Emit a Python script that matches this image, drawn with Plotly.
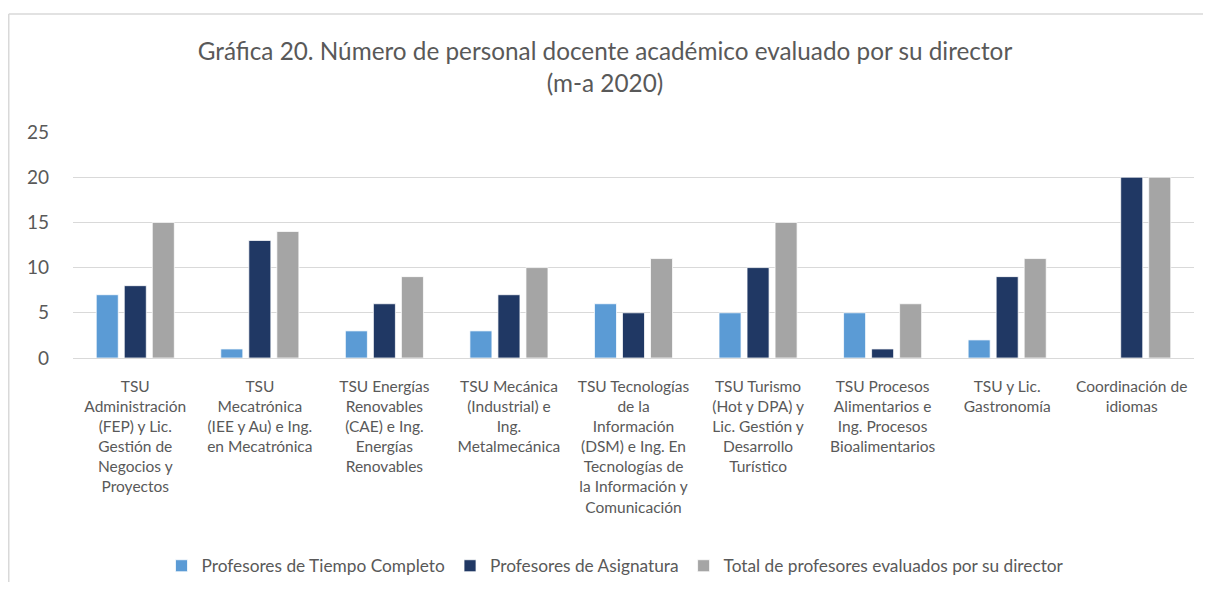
import plotly.graph_objects as go

categories = [
    "TSU<br>Administración<br>(FEP) y Lic.<br>Gestión de<br>Negocios y<br>Proyectos",
    "TSU<br>Mecatrónica<br>(IEE y Au) e Ing.<br>en Mecatrónica",
    "TSU Energías<br>Renovables<br>(CAE) e Ing.<br>Energías<br>Renovables",
    "TSU Mecánica<br>(Industrial) e<br>Ing.<br>Metalmecánica",
    "TSU Tecnologías<br>de la<br>Información<br>(DSM) e Ing. En<br>Tecnologías de<br>la Información y<br>Comunicación",
    "TSU Turismo<br>(Hot y DPA) y<br>Lic. Gestión y<br>Desarrollo<br>Turístico",
    "TSU Procesos<br>Alimentarios e<br>Ing. Procesos<br>Bioalimentarios",
    "TSU y Lic.<br>Gastronomía",
    "Coordinación de<br>idiomas",
]
tiempo_completo = [7, 1, 3, 3, 6, 5, 5, 2, None]
asignatura = [8, 13, 6, 7, 5, 10, 1, 9, 20]
total = [15, 14, 9, 10, 11, 15, 6, 11, 20]

series_names = [
    "Profesores de Tiempo Completo",
    "Profesores de Asignatura",
    "Total de profesores evaluados por su director",
]
colors = ["#5B9BD5", "#203864", "#A5A5A5"]
y_ticks = [0, 5, 10, 15, 20, 25]

# page body has an 8px margin: figure coordinates = screen - 8
W, H = 1195, 574
L, R, T, B = 65, 1186, 124, 350

fig = go.Figure()
for name, vals, col in zip(series_names, [tiempo_completo, asignatura, total], colors):
    fig.add_trace(go.Bar(
        x=categories, y=vals, name=name,
        marker=dict(color=col, line=dict(color="white", width=0.75)),
    ))

txt = "#595959"
fig.update_layout(
    width=W, height=H,
    margin=dict(l=L, r=W - R, t=T, b=H - B, pad=0, autoexpand=False),
    paper_bgcolor="white", plot_bgcolor="white",
    font=dict(family="Lato", size=15.5, color=txt),
    barmode="group", bargap=0.325, bargroupgap=0.214,
    title=dict(
        text="Gráfica 20. Número de personal docente académico evaluado por su director<br>(m-a 2020)",
        x=(605 - 8) / W, xref="container", xanchor="center",
        y=1 - 52 / H, yref="container", yanchor="top",
        font=dict(family="Lato", size=24.3, color=txt),
    ),
    legend=dict(
        orientation="h", x=(607.5 - L) / (R - L), xanchor="center",
        y=(B - 558) / (B - T), yanchor="middle",
        font=dict(size=17.3, color=txt), itemwidth=30,
    ),
    showlegend=True,
)
fig.update_xaxes(
    showgrid=False, showline=True, linecolor="#D9D9D9", linewidth=1,
    tickangle=0, ticklabelstandoff=14, tickfont=dict(size=15.5, color=txt),
)
fig.update_yaxes(
    range=[0, 25], tickvals=y_ticks, showgrid=True, gridcolor="#D9D9D9", gridwidth=1,
    zeroline=False, showline=False, ticklabelstandoff=23,
    tickfont=dict(size=19, color=txt),
)
# chart-area border (only left and top edges are visible in the crop)
bx0 = (0.75 - L) / (R - L)
bx1 = (W + 10 - L) / (R - L)
by0 = (B - H - 10) / (B - T)
by1 = (B - 6) / (B - T)
fig.add_shape(type="line", xref="paper", yref="paper", x0=bx0, x1=bx0, y0=by0, y1=by1,
              line=dict(color="#D9D9D9", width=1.5), layer="below")
fig.add_shape(type="line", xref="paper", yref="paper", x0=bx0, x1=bx1, y0=by1, y1=by1,
              line=dict(color="#D9D9D9", width=1.5), layer="below")
fig.write_html("out.html")
